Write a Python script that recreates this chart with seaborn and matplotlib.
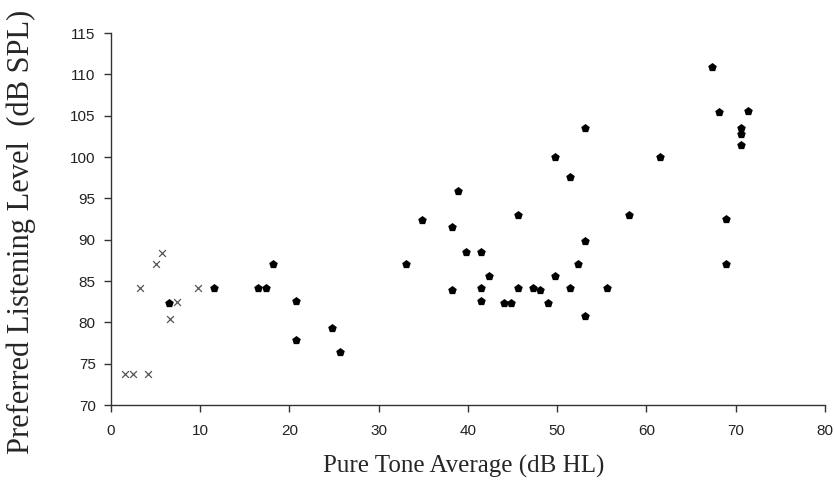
import matplotlib
matplotlib.use("Agg")
import matplotlib.pyplot as plt
import seaborn as sns
import pandas as pd

# Normal-hearing listeners (crosses)
nh_pta = [1.6, 2.5, 4.1, 3.2, 5.0, 5.7, 6.6, 7.4, 9.8]
nh_pll = [73.7, 73.7, 73.7, 84.2, 87.0, 88.4, 80.4, 82.5, 84.2]

# Hearing-impaired listeners (filled markers)
hi_pta = [6.55, 11.5, 16.5, 17.4, 18.2, 20.7, 20.7, 24.8, 25.7, 33.1,
          34.8, 38.2, 38.2, 38.9, 53.1, 49.8, 51.4, 45.6, 58.1, 53.1,
          39.8, 41.5, 52.3, 42.4, 49.8, 41.5, 45.6, 47.3, 48.1, 51.4,
          55.6, 41.5, 44.0, 44.8, 49.0, 53.1, 67.3, 68.1, 71.4, 70.6,
          70.6, 70.6, 61.5, 68.9, 68.9]
hi_pll = [82.3, 84.2, 84.2, 84.2, 87.1, 82.6, 77.9, 79.3, 76.4, 87.1,
          92.4, 91.5, 83.9, 95.9, 103.5, 100.0, 97.6, 93.0, 93.0, 89.9,
          88.5, 88.5, 87.1, 85.6, 85.6, 84.2, 84.2, 84.2, 83.9, 84.2,
          84.2, 82.6, 82.3, 82.3, 82.3, 80.8, 110.9, 105.4, 105.6, 103.5,
          102.8, 101.4, 100.0, 92.5, 87.1]

x_ticks = [0, 10, 20, 30, 40, 50, 60, 70, 80]
y_ticks = [70, 75, 80, 85, 90, 95, 100, 105, 110, 115]

sns.set_style("white")

fig = plt.figure(figsize=(8.34, 4.98), dpi=100)
ax = fig.add_axes([0.1331, 0.1867, 0.856, 0.747])

nh = pd.DataFrame({"pta": nh_pta, "pll": nh_pll})
hi = pd.DataFrame({"pta": hi_pta, "pll": hi_pll})

sns.scatterplot(data=nh, x="pta", y="pll", marker="x", color="#555555",
                s=24, linewidth=0.9, ax=ax, legend=False)
sns.scatterplot(data=hi, x="pta", y="pll", marker="p", color="black",
                s=42, linewidth=0, ax=ax, legend=False)

ax.set_xlim(0, 80)
ax.set_ylim(70, 115)
ax.set_xticks(x_ticks)
ax.set_yticks(y_ticks)
ax.set_xticklabels([str(t) for t in x_ticks], fontsize=11, family="Liberation Sans", color="#222222")
ax.set_yticklabels([str(t) for t in y_ticks], fontsize=11, family="Liberation Sans", color="#222222")
ax.tick_params(axis="x", direction="out", length=5, width=1, color="#333333", bottom=True, pad=9)
ax.tick_params(axis="y", direction="out", length=5, width=1, color="#333333", left=True, pad=6)

for side in ["top", "right"]:
    ax.spines[side].set_visible(False)
for side in ["left", "bottom"]:
    ax.spines[side].set_color("#333333")
    ax.spines[side].set_linewidth(1)

ax.set_xlabel("Pure Tone Average (dB HL)", family="Liberation Serif", fontsize=18, labelpad=15)
ax.xaxis.set_label_coords(0.4935, -0.135)
ax.xaxis.label.set_va("top")
ax.set_ylabel("Preferred Listening Level  (dB SPL)", family="Liberation Serif", fontsize=22)
ax.yaxis.set_label_coords(-0.105, 0.465)

fig.savefig("out.png", dpi=100, facecolor="white")
